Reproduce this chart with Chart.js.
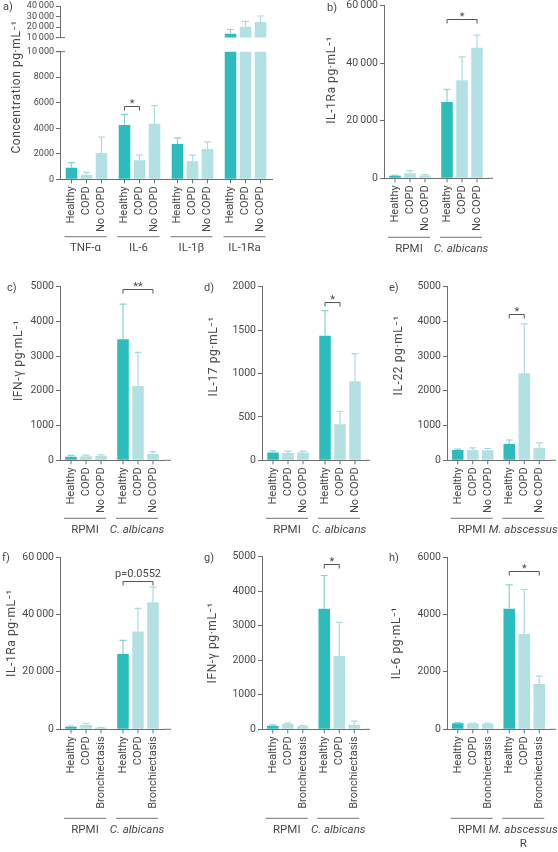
<!doctype html>
<html>
<head>
<meta charset="utf-8">
<title>Cytokine panels</title>
<script src="https://cdn.jsdelivr.net/npm/chart.js"></script>
<style>
    body { margin: 0; background: #fff; }
    #page { position: relative; width: 558px; height: 852px; overflow: hidden; font-family: Roboto, sans-serif; color: #4a4a4a; }
    #page canvas { position: absolute; }
    .tag { position: absolute; font-size: 11px; line-height: 11px; }
</style>
</head>
<body>
<div id="page"></div>
<script>
    // bar labels
    const copdLabels = ['Healthy', 'COPD', 'No COPD'];
    const bronchLabels = ['Healthy', 'COPD', 'Bronchiectasis'];
    const stimCa = ['RPMI', 'C. albicans'];
    const stimMa = ['RPMI', 'M. abscessus'];

    // a) rows = Healthy, COPD, No COPD ; cols = TNF-a, IL-6, IL-1b, IL-1Ra
    const aGroups = ['TNF-α', 'IL-6', 'IL-1β', 'IL-1Ra'];
    const aMean = [[910, 4250, 2770, 13600], [360, 1490, 1410, 20200], [2060, 4360, 2380, 24850]];
    const aErr = [[390, 840, 470, 4100], [190, 415, 490, 5150], [1255, 1410, 550, 5650]];

    // b) IL-1Ra, cols = RPMI, C. albicans
    const bMean = [[900, 26500], [1750, 34100], [1000, 45400]];
    const bErr = [[150, 4450], [900, 8100], [300, 4400]];

    // c) IFN-g
    const cMean = [[100, 3490], [120, 2140], [130, 180]];
    const cErr = [[40, 1010], [30, 970], [30, 70]];

    // d) IL-17
    const dMean = [[90, 1435], [85, 415], [90, 910]];
    const dErr = [[20, 290], [20, 150], [15, 320]];

    // e) IL-22, cols = RPMI, M. abscessus
    const eMean = [[300, 470], [300, 2510], [290, 355]];
    const eErr = [[20, 115], [60, 1420], [50, 145]];

    // f) IL-1Ra, rows = Healthy, COPD, Bronchiectasis
    const fMean = [[900, 26200], [1600, 34100], [500, 44200]];
    const fErr = [[250, 4800], [500, 8000], [100, 5300]];

    // g) IFN-g
    const gMean = [[100, 3490], [150, 2120], [90, 135]];
    const gErr = [[30, 960], [30, 975], [20, 100]];

    // h) IL-6
    const hMean = [[210, 4200], [200, 3320], [200, 1580]];
    const hErr = [[20, 830], [20, 1550], [20, 270]];

    const dark = '#2dbcbc', light = '#b3e0e3';
    const whiskDark = '#8fd0d3', whiskLight = '#a9dcdf';
    const axisCol = '#6e6e6e', textCol = '#4a4a4a';
    const page = document.getElementById('page');

    Chart.defaults.font.family = 'Roboto';
    Chart.defaults.color = textCol;

    const fmt = v => v >= 10000 ? String(v).replace(/(\d+)(\d{3})$/, '$1\u2009$2') : String(v);

    const deco = {
        id: 'deco',
        afterDatasetsDraw(chart, args, opt) {
            const ctx = chart.ctx, ya = chart.scales.y, area = chart.chartArea;
            const sets = chart.data.datasets;
            const barX = (d, i) => chart.getDatasetMeta(d).data[i].x;
            ctx.save();
            ctx.lineWidth = 1.2;

            // error whiskers (upper only)
            sets.forEach((ds, d) => {
                ds.data.forEach((v, i) => {
                    const top = v + opt.err[d][i];
                    if (v < ya.min || top > ya.max) return;
                    const x = barX(d, i), y0 = ya.getPixelForValue(v), y1 = ya.getPixelForValue(top);
                    ctx.strokeStyle = d === 0 ? whiskDark : whiskLight;
                    ctx.beginPath();
                    ctx.moveTo(x, y0); ctx.lineTo(x, y1);
                    ctx.moveTo(x - 3.5, y1); ctx.lineTo(x + 3.5, y1);
                    ctx.stroke();
                });
            });

            // x axis runs a little past the last group
            if (opt.ext) {
                ctx.strokeStyle = axisCol;
                ctx.lineWidth = 1;
                ctx.beginPath(); ctx.moveTo(area.right, area.bottom); ctx.lineTo(area.right + opt.ext, area.bottom); ctx.stroke();
            }

            // axis break mark
            if (opt.brk) {
                const y = opt.brk === 'bottom' ? area.bottom : area.top;
                ctx.strokeStyle = axisCol;
                ctx.lineWidth = 1;
                ctx.beginPath(); ctx.moveTo(area.left - 4, y); ctx.lineTo(area.left + 5, y); ctx.stroke();
            }

            // significance bracket
            if (opt.bracket) {
                const b = opt.bracket;
                const x0 = barX(b.from, b.group), x1 = barX(b.to, b.group);
                const y = Math.round(ya.getPixelForValue(b.value)) + 0.5;
                ctx.strokeStyle = '#555';
                ctx.lineWidth = 1;
                ctx.beginPath();
                ctx.moveTo(x0, y + 4); ctx.lineTo(x0, y); ctx.lineTo(x1, y); ctx.lineTo(x1, y + 4);
                ctx.stroke();
                ctx.fillStyle = textCol;
                ctx.textAlign = 'center';
                ctx.textBaseline = 'bottom';
                ctx.font = '11px Roboto';
                ctx.fillText(b.text, (x0 + x1) / 2, b.text.startsWith('p') ? y - 2 : y + 3);
            }

            // per-bar labels and groups
            if (opt.groupLine) {
                const by = area.bottom;
                ctx.fillStyle = textCol;
                ctx.font = '11px Roboto';
                sets.forEach((ds, d) => {
                    chart.getDatasetMeta(d).data.forEach(bar => {
                        ctx.strokeStyle = axisCol;
                        ctx.lineWidth = 1;
                        ctx.beginPath(); ctx.moveTo(bar.x, by); ctx.lineTo(bar.x, by + 4); ctx.stroke();
                        ctx.save();
                        ctx.translate(bar.x, by + 7);
                        ctx.rotate(-Math.PI / 2);
                        ctx.textAlign = 'right';
                        ctx.textBaseline = 'middle';
                        ctx.fillText(ds.label, 0, 0);
                        ctx.restore();
                    });
                });
                chart.data.labels.forEach((g, i) => {
                    const xs = sets.map((ds, d) => barX(d, i));
                    const x0 = Math.min(...xs) - 7, x1 = Math.max(...xs) + 5;
                    const ly = by + opt.groupLine;
                    ctx.strokeStyle = '#8f8f8f';
                    ctx.lineWidth = 1.3;
                    ctx.beginPath(); ctx.moveTo(x0, ly); ctx.lineTo(x1, ly); ctx.stroke();
                    const lines = g.split('\n');
                    ctx.textAlign = 'center';
                    ctx.textBaseline = 'middle';
                    lines.forEach((t, k) => {
                        const it = k === 0 && opt.italic && opt.italic.includes(i);
                        ctx.font = (it ? 'italic ' : '') + '11.5px Roboto';
                        ctx.fillText(t, (x0 + x1) / 2, ly + 11.5 + k * 14.5);
                    });
                });
            }

            // y axis title
            if (opt.yTitle) {
                const t = opt.yTitle;
                ctx.save();
                ctx.translate(area.left - t.dx, (area.top + area.bottom) / 2 + t.dy);
                ctx.rotate(-Math.PI / 2);
                ctx.font = '12px Roboto';
                ctx.letterSpacing = '0.6px';
                ctx.fillStyle = textCol;
                ctx.textAlign = 'center';
                ctx.textBaseline = 'middle';
                ctx.fillText(t.text, 0, 0);
                ctx.restore();
            }
            ctx.restore();
        }
    };

    function makePanel(o) {
        const cv = document.createElement('canvas');
        cv.width = o.box.w; cv.height = o.box.h;
        cv.style.left = o.box.x + 'px'; cv.style.top = o.box.y + 'px';
        page.appendChild(cv);
        const yW = o.area.l - o.box.x;
        const xH = o.box.y + o.box.h - o.area.b;
        const band = (o.area.r - o.area.l) / o.groups.length;
        new Chart(cv, {
            type: 'bar',
            data: {
                labels: o.groups,
                datasets: o.series.map((s, d) => ({
                    label: s,
                    data: o.mean[d],
                    backgroundColor: d === 0 ? dark : light,
                    categoryPercentage: 45 / band,
                    barPercentage: 0.77,
                    clip: 0
                }))
            },
            options: {
                responsive: false,
                animation: false,
                devicePixelRatio: 1,
                layout: { padding: { left: 0, top: o.area.t - o.box.y, right: o.box.x + o.box.w - o.area.r, bottom: 0 } },
                plugins: {
                    legend: { display: false },
                    tooltip: { enabled: false },
                    deco: { err: o.err, bracket: o.bracket, groupLine: o.groupLine, italic: o.italic, yTitle: o.yTitle, brk: o.brk, ext: o.ext }
                },
                scales: {
                    x: {
                        ticks: { display: false },
                        grid: { display: false },
                        border: { display: o.xAxis !== false, color: axisCol, width: 1 },
                        afterFit: s => { s.height = xH; }
                    },
                    y: {
                        min: o.min, max: o.max,
                        ticks: { stepSize: o.step, autoSkip: false, color: textCol, font: { size: o.tickSize || 10.5 }, padding: 2, callback: fmt },
                        grid: { drawOnChartArea: false, tickLength: 4, color: axisCol, lineWidth: 1 },
                        border: { color: axisCol, width: 1 },
                        afterFit: s => { s.width = yW; }
                    }
                }
            },
            plugins: [deco]
        });
    }

    function tag(t, x, y) {
        const el = document.createElement('div');
        el.className = 'tag';
        el.textContent = t;
        el.style.left = x + 'px'; el.style.top = y + 'px';
        page.appendChild(el);
    }

    // a) broken axis: upper and lower segments
    makePanel({ box: { x: 0, y: -6, w: 282, h: 51 }, area: { l: 60, r: 272, t: 6, b: 45 },
        groups: aGroups, series: copdLabels, mean: aMean, err: aErr,
        min: 10000, max: 40000, step: 10000, tickSize: 9, xAxis: false, brk: 'bottom' });
    makePanel({ box: { x: 0, y: 0, w: 282, h: 262 }, area: { l: 60, r: 272, t: 51.7, b: 179.3 },
        groups: aGroups, series: copdLabels, mean: aMean, err: aErr,
        min: 0, max: 10000, step: 2000, tickSize: 9, brk: 'top', groupLine: 57.4,
        bracket: { group: 1, from: 0, to: 1, value: 5720, text: '*' },
        yTitle: { text: 'Concentration pg·mL⁻¹', dx: 43, dy: -28.5 } });

    makePanel({ box: { x: 282, y: -6, w: 276, h: 268 }, area: { l: 384, r: 488, t: 5.7, b: 178.3 },
        groups: stimCa, series: copdLabels, mean: bMean, err: bErr, italic: [1], ext: 5,
        min: 0, max: 60000, step: 20000, groupLine: 59,
        bracket: { group: 1, from: 0, to: 2, value: 55400, text: '*' },
        yTitle: { text: 'IL-1Ra pg·mL⁻¹', dx: 52, dy: -12 } });

    makePanel({ box: { x: 0, y: 272, w: 185, h: 270 }, area: { l: 60, r: 164, t: 286.7, b: 460.3 },
        groups: stimCa, series: copdLabels, mean: cMean, err: cErr, italic: [1], ext: 7,
        min: 0, max: 5000, step: 1000, groupLine: 58,
        bracket: { group: 1, from: 0, to: 2, value: 4930, text: '**' },
        yTitle: { text: 'IFN-γ pg·mL⁻¹', dx: 41, dy: -13 } });

    makePanel({ box: { x: 185, y: 272, w: 185, h: 270 }, area: { l: 262, r: 366, t: 286.7, b: 460.3 },
        groups: stimCa, series: copdLabels, mean: dMean, err: dErr, italic: [1], ext: 8,
        min: 0, max: 2000, step: 500, groupLine: 58,
        bracket: { group: 1, from: 0, to: 1, value: 1824, text: '*' },
        yTitle: { text: 'IL-17 pg·mL⁻¹', dx: 48, dy: -17 } });

    makePanel({ box: { x: 370, y: 272, w: 188, h: 270 }, area: { l: 447, r: 550, t: 286.7, b: 460.3 },
        groups: stimMa, series: copdLabels, mean: eMean, err: eErr, italic: [1], ext: 6,
        min: 0, max: 5000, step: 1000, groupLine: 58,
        bracket: { group: 1, from: 0, to: 1, value: 4207, text: '*' },
        yTitle: { text: 'IL-22 pg·mL⁻¹', dx: 48, dy: -18 } });

    makePanel({ box: { x: 0, y: 545, w: 185, h: 307 }, area: { l: 60, r: 164, t: 557, b: 729.3 },
        groups: stimCa, series: bronchLabels, mean: fMean, err: fErr, italic: [1], ext: 7,
        min: 0, max: 60000, step: 20000, groupLine: 89,
        bracket: { group: 1, from: 0, to: 2, value: 51700, text: 'p=0.0552' },
        yTitle: { text: 'IL-1Ra pg·mL⁻¹', dx: 48, dy: -10 } });

    makePanel({ box: { x: 185, y: 545, w: 185, h: 307 }, area: { l: 262, r: 365, t: 556.5, b: 729.3 },
        groups: stimCa, series: bronchLabels, mean: gMean, err: gErr, italic: [1], ext: 7,
        min: 0, max: 5000, step: 1000, groupLine: 89,
        bracket: { group: 1, from: 0, to: 1, value: 4790, text: '*' },
        yTitle: { text: 'IFN-γ pg·mL⁻¹', dx: 49, dy: 0 } });

    makePanel({ box: { x: 370, y: 545, w: 188, h: 307 }, area: { l: 447, r: 550, t: 557, b: 729.3 },
        groups: ['RPMI', 'M. abscessus\nR'], series: bronchLabels, mean: hMean, err: hErr, italic: [1], ext: 6,
        min: 0, max: 6000, step: 2000, groupLine: 89,
        bracket: { group: 1, from: 0, to: 2, value: 5520, text: '*' },
        yTitle: { text: 'IL-6 pg·mL⁻¹', dx: 50, dy: 0 } });

    tag('a)', 3, 1);
    tag('b)', 327, 2);
    tag('c)', 7, 282);
    tag('d)', 204, 282);
    tag('e)', 389, 282);
    tag('f)', 2, 552);
    tag('g)', 204, 552);
    tag('h)', 389, 552);
</script>
</body>
</html>
